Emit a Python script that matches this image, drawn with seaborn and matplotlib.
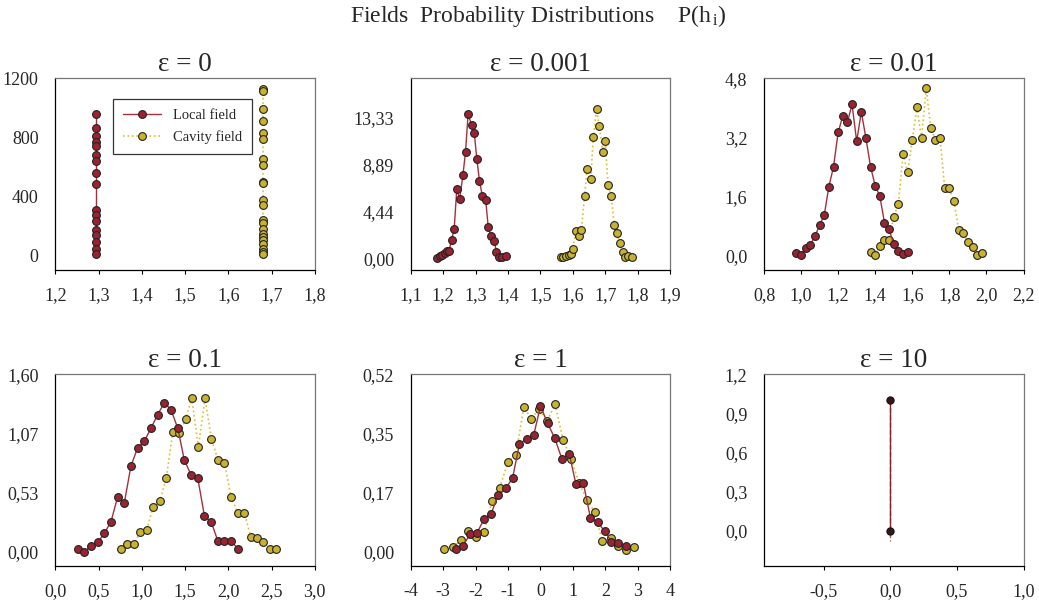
import numpy as np
import pandas as pd
import matplotlib
matplotlib.use("Agg")
import matplotlib.pyplot as plt
import seaborn as sns

sns.set_theme(style="white")
plt.rcParams['font.family'] = ['Liberation Serif', 'DejaVu Serif']
plt.rcParams['mathtext.fontset'] = 'custom'
plt.rcParams['mathtext.rm'] = 'Liberation Serif'
plt.rcParams['mathtext.it'] = 'Liberation Serif:italic'

# ---- data ----
# eps = 0
h0_local = [1.294] * 17
p0_local = [958, 860, 808, 770, 740, 679, 641, 559, 482, 310, 272, 231, 174, 136, 91, 45, 11]
h0_cav = [1.681] * 22
p0_cav = [1127, 1114, 989, 910, 831, 790, 650, 609, 498, 487, 378, 340, 238, 220, 181,
          147, 125, 102, 75, 45, 23, 7]

# eps = 0.001
h1_local = [1.180, 1.189, 1.197, 1.205, 1.211, 1.218, 1.226, 1.234, 1.242, 1.251, 1.261,
            1.269, 1.277, 1.288, 1.296, 1.304, 1.312, 1.321, 1.331, 1.339, 1.347, 1.358,
            1.364, 1.372, 1.380, 1.393]
p1_local = [0.09, 0.22, 0.38, 0.57, 0.73, 0.69, 1.80, 2.78, 6.57, 5.65, 7.90, 10.08, 13.68,
            12.60, 11.85, 9.38, 7.36, 5.91, 5.59, 3.00, 2.12, 1.67, 0.63, 0.16, 0.13, 0.22]
h1_cav = [1.562, 1.570, 1.578, 1.587, 1.593, 1.599, 1.609, 1.618, 1.626, 1.636, 1.644,
          1.655, 1.663, 1.673, 1.681, 1.692, 1.700, 1.708, 1.719, 1.727, 1.735, 1.745,
          1.754, 1.762, 1.770, 1.783]
p1_cav = [0.16, 0.16, 0.22, 0.32, 0.44, 0.88, 2.59, 2.12, 2.69, 5.91, 8.43, 7.49, 11.53,
          14.12, 12.54, 10.11, 11.12, 7.01, 5.91, 3.16, 2.43, 1.48, 0.60, 0.16, 0.22, 0.13]

# eps = 0.01
h2_local = [0.975, 1.000, 1.025, 1.050, 1.075, 1.100, 1.125, 1.150, 1.175, 1.200, 1.225,
            1.250, 1.275, 1.300, 1.325, 1.350, 1.375, 1.400, 1.425, 1.450, 1.475, 1.500,
            1.525, 1.550, 1.575]
p2_local = [0.05, 0.00, 0.20, 0.28, 0.52, 0.81, 1.09, 1.86, 2.40, 3.33, 3.78, 3.61, 4.09,
            3.09, 3.89, 3.17, 2.40, 1.88, 1.60, 0.88, 0.70, 0.30, 0.12, 0.03, 0.08]
h2_cav = [1.375, 1.400, 1.425, 1.450, 1.475, 1.500, 1.525, 1.550, 1.575, 1.600, 1.625,
          1.650, 1.675, 1.700, 1.725, 1.750, 1.775, 1.800, 1.825, 1.850, 1.875, 1.900,
          1.925, 1.950, 1.975]
p2_cav = [0.08, 0.00, 0.24, 0.41, 0.41, 1.04, 1.40, 2.74, 2.25, 3.13, 4.01, 3.18, 4.53,
          3.44, 3.13, 3.17, 1.81, 1.81, 1.48, 0.69, 0.61, 0.36, 0.21, 0.00, 0.05]

# eps = 0.1
h3_local = [0.258, 0.335, 0.413, 0.490, 0.567, 0.644, 0.721, 0.798, 0.875, 0.952, 1.030,
            1.107, 1.184, 1.261, 1.338, 1.415, 1.492, 1.569, 1.647, 1.724, 1.801, 1.878,
            1.955, 2.032, 2.109]
p3_local = [0.030, 0.000, 0.057, 0.087, 0.168, 0.273, 0.497, 0.443, 0.776, 0.938, 0.998,
            1.117, 1.237, 1.345, 1.279, 1.117, 0.827, 0.695, 0.665, 0.324, 0.273, 0.102,
            0.102, 0.102, 0.030]
h3_cav = [0.756, 0.829, 0.906, 0.983, 1.057, 1.130, 1.207, 1.284, 1.357, 1.434, 1.508,
          1.577, 1.654, 1.731, 1.805, 1.882, 1.955, 2.032, 2.109, 2.186, 2.260, 2.333,
          2.406, 2.483, 2.557]
p3_cav = [0.027, 0.069, 0.069, 0.180, 0.201, 0.404, 0.455, 0.668, 1.076, 1.067, 1.198,
          1.384, 0.947, 1.384, 1.016, 0.827, 0.800, 0.497, 0.351, 0.351, 0.138, 0.126,
          0.087, 0.027, 0.027]

# eps = 1
h4_local = [-2.61, -2.39, -2.17, -1.96, -1.74, -1.52, -1.30, -1.07, -0.86, -0.65, -0.43,
            -0.21, 0.00, 0.22, 0.44, 0.66, 0.89, 1.09, 1.32, 1.54, 1.76, 1.98, 2.19, 2.40, 2.63]
p4_local = [0.009, 0.018, 0.052, 0.055, 0.096, 0.112, 0.168, 0.186, 0.216, 0.315, 0.332,
            0.341, 0.427, 0.377, 0.333, 0.273, 0.286, 0.200, 0.203, 0.100, 0.087, 0.061,
            0.030, 0.026, 0.018]
h4_cav = [-2.96, -2.70, -2.45, -2.22, -1.98, -1.74, -1.50, -1.26, -1.00, -0.76, -0.51,
          -0.28, -0.04, 0.21, 0.45, 0.70, 0.94, 1.19, 1.43, 1.67, 1.91, 2.16, 2.39, 2.64, 2.89]
p4_cav = [0.010, 0.015, 0.034, 0.062, 0.045, 0.057, 0.148, 0.186, 0.264, 0.285, 0.424,
          0.389, 0.419, 0.384, 0.432, 0.328, 0.273, 0.203, 0.152, 0.117, 0.031, 0.040,
          0.018, 0.005, 0.015]

# eps = 10
h5_local = [0.0, 0.0]
p5_local = [1.0, 0.0]
h5_cav = [0.0, 0.0]
p5_cav = [1.0, -0.08]

titles = ["ε = 0", "ε = 0.001", "ε = 0.01", "ε = 0.1", "ε = 1", "ε = 10"]
series = [(h0_local, p0_local, h0_cav, p0_cav),
          (h1_local, p1_local, h1_cav, p1_cav),
          (h2_local, p2_local, h2_cav, p2_cav),
          (h3_local, p3_local, h3_cav, p3_cav),
          (h4_local, p4_local, h4_cav, p4_cav),
          (h5_local, p5_local, h5_cav, p5_cav)]

xlims = [(1.2, 1.8), (1.1, 1.9), (0.8, 2.2), (0.0, 3.0), (-4, 4), (-0.95, 1.0)]
xticks = [[1.2, 1.3, 1.4, 1.5, 1.6, 1.7, 1.8],
          [1.1, 1.2, 1.3, 1.4, 1.5, 1.6, 1.7, 1.8, 1.9],
          [0.8, 1.0, 1.2, 1.4, 1.6, 1.8, 2.0, 2.2],
          [0.0, 0.5, 1.0, 1.5, 2.0, 2.5, 3.0],
          [-4, -3, -2, -1, 0, 1, 2, 3, 4],
          [-0.5, 0.0, 0.5, 1.0]]
xlabels = [["1,2", "1,3", "1,4", "1,5", "1,6", "1,7", "1,8"],
           ["1,1", "1,2", "1,3", "1,4", "1,5", "1,6", "1,7", "1,8", "1,9"],
           ["0,8", "1,0", "1,2", "1,4", "1,6", "1,8", "2,0", "2,2"],
           ["0,0", "0,5", "1,0", "1,5", "2,0", "2,5", "3,0"],
           ["-4", "-3", "-2", "-1", "0", "1", "2", "3", "4"],
           ["-0,5", "0,0", "0,5", "1,0"]]
ylims = [(-102, 1200), (-1.1, 17.05), (-0.41, 4.8), (-0.129, 1.6), (-0.042, 0.52), (-0.27, 1.2)]
yticks = [[0, 400, 800, 1200],
          [0, 4.44, 8.89, 13.33],
          [0, 1.6, 3.2, 4.8],
          [0, 0.533, 1.067, 1.6],
          [0, 0.173, 0.347, 0.52],
          [0, 0.3, 0.6, 0.9, 1.2]]
ylabels = [["0", "400", "800", "1200"],
           ["0,00", "4,44", "8,89", "13,33"],
           ["0,0", "1,6", "3,2", "4,8"],
           ["0,00", "0,53", "1,07", "1,60"],
           ["0,00", "0,17", "0,35", "0,52"],
           ["0,0", "0,3", "0,6", "0,9", "1,2"]]

local_face = "#9a2332"
local_line = "#a4303c"
cav_face = "#c8b22e"
cav_line = "#d6c23a"

W, H = 1039, 605
fig = plt.figure(figsize=(W / 100, H / 100), dpi=100)
lefts = [55.3, 410.7, 764]
tops = [78.3, 374.3]
aw, ah = 259.5, 192

for i in range(6):
    r, c = divmod(i, 3)
    ax = fig.add_axes([lefts[c] / W, 1 - (tops[r] + ah) / H, aw / W, ah / H])
    hl, pl, hc, pc = series[i]
    if i < 5:
        sns.lineplot(x=hl, y=pl, ax=ax, estimator=None, sort=False, marker="o",
                     color=local_line, linewidth=1.0, markersize=5.6,
                     markerfacecolor=local_face, markeredgecolor="#222222",
                     markeredgewidth=0.8, label="Local field", zorder=3)
        sns.lineplot(x=hc, y=pc, ax=ax, estimator=None, sort=False, marker="o",
                     color=cav_line, linewidth=1.2, linestyle=":", markersize=5.6,
                     markerfacecolor=cav_face, markeredgecolor="#222222",
                     markeredgewidth=0.8, label="Cavity field", zorder=2)
    else:
        sns.lineplot(x=hc, y=pc, ax=ax, estimator=None, sort=False, marker=None,
                     color="#8a6a50", linewidth=1.0, linestyle="--",
                     label="Cavity field", zorder=2)
        sns.lineplot(x=hl, y=pl, ax=ax, estimator=None, sort=False, marker="o",
                     color="#8a2430", linewidth=1.0, markersize=5.2,
                     markerfacecolor="#3a1518", markeredgecolor="#111111",
                     markeredgewidth=0.8, label="Local field", zorder=3)
    ax.set_xlim(*xlims[i])
    ax.set_ylim(*ylims[i])
    ax.set_xticks(xticks[i])
    ax.set_xticklabels(xlabels[i])
    ax.set_yticks(yticks[i])
    ax.set_yticklabels(ylabels[i])
    ax.tick_params(axis="x", bottom=True, length=3, width=0.8, pad=9, labelsize=13,
                   color="black")
    ax.tick_params(axis="y", left=False, length=0, pad=12, labelsize=13)
    for s in ["left", "bottom"]:
        ax.spines[s].set_color("black")
        ax.spines[s].set_linewidth(0.9)
    for s in ["top", "right"]:
        ax.spines[s].set_color("#777777")
        ax.spines[s].set_linewidth(0.9)
    ax.set_xlabel("")
    ax.set_ylabel("")
    ax.set_title(titles[i], fontsize=19.5, pad=5)
    if i == 0:
        leg = ax.legend(loc="upper left", bbox_to_anchor=(0.222, 0.892), fontsize=10.5,
                        frameon=True, fancybox=False, handlelength=2.6,
                        borderpad=0.7, labelspacing=0.55, borderaxespad=0)
        leg.get_frame().set_edgecolor("black")
        leg.get_frame().set_linewidth(0.9)
    else:
        ax.get_legend().remove()

fig.text(538 / W, 1 - 16 / H,
         r"Fields  Probability Distributions    P(h$_{\,\mathrm{i}}$)",
         ha="center", va="center", fontsize=17)

fig.savefig("out.png", dpi=100)
